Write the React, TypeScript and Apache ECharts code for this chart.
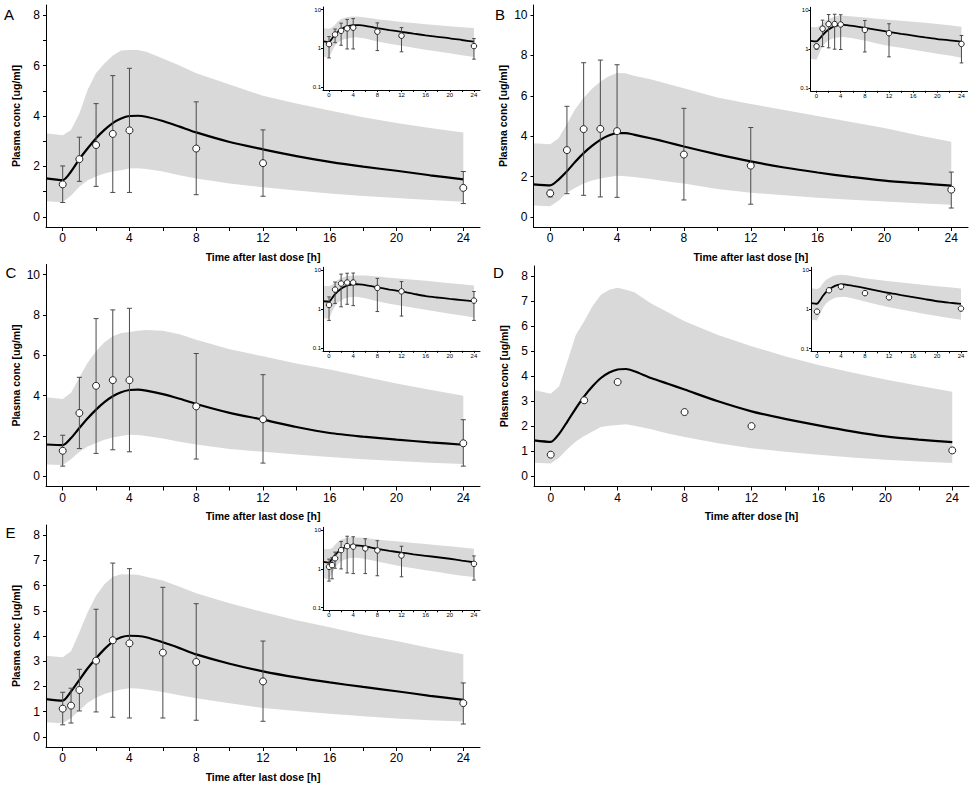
import React, { useEffect, useRef } from 'react';
import * as echarts from 'echarts';

// ---------- shared time grid of the simulated profiles ----------
const predTimes = [-1, 0, 0.5, 1, 1.5, 2, 2.5, 3, 3.5, 4, 4.5, 5, 6, 7, 8, 10, 12, 14, 16, 18, 20, 22, 24];

// ---------- Panel A ----------
const medianA = [1.53, 1.46, 1.8, 2.29, 2.72, 3.12, 3.45, 3.72, 3.9, 4.0, 4.01, 3.97, 3.8, 3.58, 3.35, 2.97, 2.68, 2.41, 2.18, 1.99, 1.83, 1.65, 1.49];
const upperA = [3.32, 3.24, 3.45, 4.1, 5.05, 5.7, 6.08, 6.4, 6.6, 6.62, 6.62, 6.55, 6.28, 6.0, 5.69, 5.25, 4.8, 4.5, 4.22, 3.95, 3.72, 3.52, 3.35];
const lowerA = [0.62, 0.58, 0.85, 1.2, 1.45, 1.6, 1.72, 1.8, 1.85, 1.92, 1.93, 1.9, 1.8, 1.65, 1.52, 1.32, 1.18, 1.05, 0.93, 0.83, 0.75, 0.67, 0.6];
const obsTimeA = [0, 1, 2, 3, 4, 8, 12, 24];
const obsMeanA = [1.29, 2.29, 2.85, 3.29, 3.43, 2.71, 2.13, 1.15];
const obsHighA = [2.02, 3.16, 4.49, 5.6, 5.89, 4.56, 3.45, 1.8];
const obsLowA = [0.57, 1.41, 1.21, 0.97, 0.97, 0.88, 0.82, 0.53];

// ---------- Panel B ----------
const medianB = [1.61, 1.56, 1.85, 2.26, 2.73, 3.16, 3.52, 3.82, 4.03, 4.15, 4.15, 4.08, 3.9, 3.7, 3.49, 3.1, 2.75, 2.45, 2.2, 1.98, 1.8, 1.67, 1.55];
const upperB = [3.65, 3.6, 3.9, 4.6, 5.35, 5.9, 6.35, 6.7, 6.97, 7.13, 7.12, 7.0, 6.82, 6.6, 6.37, 5.92, 5.6, 5.3, 5.0, 4.7, 4.4, 4.05, 3.72];
const lowerB = [0.56, 0.53, 0.8, 1.2, 1.45, 1.65, 1.8, 1.9, 1.98, 2.04, 2.02, 1.98, 1.88, 1.75, 1.65, 1.38, 1.2, 1.07, 0.95, 0.85, 0.76, 0.68, 0.6];
const obsTimeB = [0, 1, 2, 3, 4, 8, 12, 24];
const obsMeanB = [1.17, 3.31, 4.35, 4.36, 4.25, 3.09, 2.54, 1.35];
const obsHighB = [1.33, 5.48, 7.64, 7.77, 7.54, 5.38, 4.43, 2.22];
const obsLowB = [0.99, 1.15, 1.07, 0.99, 0.97, 0.84, 0.63, 0.44];

// ---------- Panel C ----------
const medianC = [1.58, 1.55, 1.9, 2.4, 2.88, 3.31, 3.68, 3.97, 4.17, 4.28, 4.3, 4.25, 4.08, 3.85, 3.59, 3.15, 2.81, 2.45, 2.15, 1.97, 1.82, 1.69, 1.57];
const upperC = [3.92, 3.84, 4.15, 4.9, 5.65, 6.2, 6.65, 6.95, 7.1, 7.16, 7.22, 7.26, 7.22, 7.05, 6.77, 6.3, 5.95, 5.6, 5.3, 4.95, 4.6, 4.3, 4.0];
const lowerC = [0.59, 0.56, 0.85, 1.22, 1.48, 1.65, 1.82, 1.93, 2.0, 2.07, 2.05, 2.0, 1.88, 1.72, 1.58, 1.36, 1.22, 1.08, 0.96, 0.85, 0.76, 0.68, 0.61];
const obsTimeC = [0, 1, 2, 3, 4, 8, 12, 24];
const obsMeanC = [1.27, 3.14, 4.49, 4.77, 4.77, 3.47, 2.83, 1.64];
const obsHighC = [2.04, 4.91, 7.82, 8.25, 8.33, 6.09, 5.04, 2.81];
const obsLowC = [0.51, 1.38, 1.14, 1.32, 1.22, 0.86, 0.66, 0.51];

// ---------- Panel D ----------
const medianD = [1.44, 1.38, 1.7, 2.2, 2.72, 3.2, 3.6, 3.93, 4.15, 4.27, 4.29, 4.2, 3.93, 3.7, 3.47, 3.0, 2.6, 2.3, 2.04, 1.8, 1.6, 1.47, 1.37];
const upperD = [3.45, 3.3, 3.6, 4.6, 5.65, 6.2, 6.8, 7.25, 7.45, 7.53, 7.45, 7.35, 6.9, 6.55, 6.2, 5.65, 5.2, 4.8, 4.45, 4.15, 3.87, 3.62, 3.38];
const lowerD = [0.55, 0.52, 0.75, 1.1, 1.4, 1.62, 1.8, 1.97, 2.02, 2.05, 2.08, 2.02, 1.88, 1.72, 1.58, 1.33, 1.13, 0.99, 0.87, 0.76, 0.67, 0.6, 0.54];
const obsTimeD = [0, 2, 4, 8, 12, 24];
const obsMeanD = [0.87, 3.04, 3.77, 2.57, 2.01, 1.04];

// ---------- Panel E ----------
const medianE = [1.5, 1.44, 1.8, 2.26, 2.72, 3.12, 3.48, 3.78, 3.95, 4.01, 4.0, 3.95, 3.75, 3.52, 3.27, 2.9, 2.6, 2.36, 2.16, 1.98, 1.81, 1.63, 1.47];
const upperE = [3.22, 3.16, 3.4, 4.15, 4.95, 5.6, 6.05, 6.35, 6.45, 6.44, 6.43, 6.35, 6.2, 5.95, 5.69, 5.3, 4.95, 4.62, 4.35, 4.05, 3.8, 3.52, 3.28];
const lowerE = [0.58, 0.54, 0.75, 1.05, 1.35, 1.55, 1.7, 1.8, 1.88, 1.93, 1.92, 1.88, 1.78, 1.65, 1.53, 1.33, 1.15, 1.03, 0.92, 0.82, 0.73, 0.66, 0.61];
const obsTimeE = [0, 0.5, 1, 2, 3, 4, 6, 8, 12, 24];
const obsMeanE = [1.12, 1.24, 1.86, 3.02, 3.83, 3.71, 3.34, 2.97, 2.2, 1.34];
const obsHighE = [1.77, 1.93, 2.68, 5.06, 6.89, 6.67, 5.93, 5.28, 3.8, 2.14];
const obsLowE = [0.48, 0.55, 1.03, 0.99, 0.78, 0.75, 0.75, 0.66, 0.62, 0.51];

// ---------- tick values ----------
const xTickValues = [0, 2, 4, 6, 8, 10, 12, 14, 16, 18, 20, 22, 24];
const xLabelValues = [0, 4, 8, 12, 16, 20, 24];
const yTicks8Minor = [0, 1, 2, 3, 4, 5, 6, 7, 8];
const yLabels8Even = [0, 2, 4, 6, 8];
const yTicks10 = [0, 2, 4, 6, 8, 10];
const yTicks8All = [0, 1, 2, 3, 4, 5, 6, 7, 8];
const logTickValues = [0.1, 1, 10];

const yTitle = 'Plasma conc [ug/ml]';
const xTitleLast = 'Time after last dose [h]';
const xTitleDose = 'Time after dose [h]';

const FONT = '"Liberation Sans", Arial, Helvetica, sans-serif';
const BAND = '#d9d9d9';

type Panel = {
  letter: string;
  letterPos: [number, number];
  main: { left: number; top: number; width: number; height: number };
  inset: { left: number; top: number; width: number; height: number };
  yRange: [number, number];
  yTicks: number[];
  yLabels: number[];
  xName: string;
  med: number[];
  lo: number[];
  hi: number[];
  obsT: number[];
  obsM: number[];
  obsLo?: number[];
  obsHi?: number[];
};

const panels: Panel[] = [
  {
    letter: 'A', letterPos: [9, 14.5],
    main: { left: 46, top: 5, width: 434, height: 222 },
    inset: { left: 323, top: 7, width: 157, height: 83 },
    yRange: [-0.4, 8.4], yTicks: yTicks8Minor, yLabels: yLabels8Even, xName: xTitleLast,
    med: medianA, lo: lowerA, hi: upperA,
    obsT: obsTimeA, obsM: obsMeanA, obsLo: obsLowA, obsHi: obsHighA,
  },
  {
    letter: 'B', letterPos: [500, 14.5],
    main: { left: 533.5, top: 5, width: 434.5, height: 222 },
    inset: { left: 810.5, top: 7.3, width: 157, height: 83.5 },
    yRange: [-0.5, 10.5], yTicks: yTicks10, yLabels: yTicks10, xName: xTitleLast,
    med: medianB, lo: lowerB, hi: upperB,
    obsT: obsTimeB, obsM: obsMeanB, obsLo: obsLowB, obsHi: obsHighB,
  },
  {
    letter: 'C', letterPos: [11, 272.3],
    main: { left: 46, top: 264.5, width: 434, height: 222 },
    inset: { left: 323, top: 267.3, width: 157, height: 83.5 },
    yRange: [-0.5, 10.5], yTicks: yTicks10, yLabels: yTicks10, xName: xTitleLast,
    med: medianC, lo: lowerC, hi: upperC,
    obsT: obsTimeC, obsM: obsMeanC, obsLo: obsLowC, obsHi: obsHighC,
  },
  {
    letter: 'D', letterPos: [498.3, 272],
    main: { left: 534, top: 266, width: 435, height: 220.5 },
    inset: { left: 811, top: 267.3, width: 156, height: 84 },
    yRange: [-0.4, 8.4], yTicks: yTicks8All, yLabels: yTicks8All, xName: xTitleDose,
    med: medianD, lo: lowerD, hi: upperD,
    obsT: obsTimeD, obsM: obsMeanD,
  },
  {
    letter: 'E', letterPos: [10.5, 532.3],
    main: { left: 46, top: 525, width: 434, height: 222 },
    inset: { left: 323, top: 527.3, width: 157, height: 83 },
    yRange: [-0.4, 8.4], yTicks: yTicks8All, yLabels: yTicks8All, xName: xTitleLast,
    med: medianE, lo: lowerE, hi: upperE,
    obsT: obsTimeE, obsM: obsMeanE, obsLo: obsLowE, obsHi: obsHighE,
  },
];

function buildOption() {
  const grid: any[] = [];
  const xAxis: any[] = [];
  const yAxis: any[] = [];
  const series: any[] = [];
  const graphic: any[] = [];

  panels.forEach((p, k) => {
    const mi = 2 * k;
    const ii = 2 * k + 1;
    grid.push({ ...p.main, containLabel: false });
    grid.push({ ...p.inset, containLabel: false });

    const axisLine = { show: true, onZero: false, lineStyle: { color: '#000', width: 1 } };

    // main axes
    xAxis.push({
      type: 'value', gridIndex: mi, min: -1, max: 25, z: 10,
      axisLine,
      axisTick: { show: true, customValues: xTickValues, length: 4, lineStyle: { color: '#000', width: 1 } },
      axisLabel: { customValues: xLabelValues, fontSize: 12, color: '#000', margin: 5, fontFamily: FONT },
      splitLine: { show: false },
      name: p.xName, nameLocation: 'middle', nameGap: 24,
      nameTextStyle: { fontSize: 10.5, fontWeight: 'bold', color: '#000', fontFamily: FONT },
    });
    yAxis.push({
      type: 'value', gridIndex: mi, min: p.yRange[0], max: p.yRange[1], z: 10,
      axisLine,
      axisTick: { show: true, customValues: p.yTicks, length: 3, lineStyle: { color: '#000', width: 1 } },
      axisLabel: { customValues: p.yLabels, fontSize: 12, color: '#000', margin: 6, fontFamily: FONT },
      splitLine: { show: false },
      name: yTitle, nameLocation: 'middle', nameGap: 25,
      nameTextStyle: { fontSize: 10.5, fontWeight: 'bold', color: '#000', fontFamily: FONT },
    });
    // inset axes
    xAxis.push({
      type: 'value', gridIndex: ii, min: -1, max: 25, z: 10,
      axisLine,
      axisTick: { show: true, customValues: xTickValues, length: 2, lineStyle: { color: '#000', width: 1 } },
      axisLabel: { customValues: xLabelValues, fontSize: 6, color: '#000', margin: 2, fontFamily: FONT },
      splitLine: { show: false },
    });
    yAxis.push({
      type: 'log', logBase: 10, gridIndex: ii, min: 0.085, max: 11.7, z: 10,
      axisLine,
      axisTick: { show: true, customValues: logTickValues, length: 2, lineStyle: { color: '#000', width: 1 } },
      axisLabel: {
        customValues: logTickValues, fontSize: 6, color: '#000', margin: 2, fontFamily: FONT,
        formatter: (v: number) => String(parseFloat(Number(v).toPrecision(2))),
      },
      splitLine: { show: false },
      minorTick: { show: false },
    });

    [mi, ii].forEach((ax) => {
      const isInset = ax === ii;
      // prediction band
      series.push({
        type: 'custom', xAxisIndex: ax, yAxisIndex: ax, z: 1, silent: true,
        data: [[predTimes[0], p.med[0]]],
        renderItem: (_params: any, api: any) => {
          const pts: number[][] = [];
          for (let i = 0; i < predTimes.length; i++) pts.push(api.coord([predTimes[i], p.hi[i]]));
          for (let i = predTimes.length - 1; i >= 0; i--) pts.push(api.coord([predTimes[i], p.lo[i]]));
          return { type: 'polygon', shape: { points: pts }, style: { fill: BAND } };
        },
      });
      // median line
      series.push({
        type: 'line', xAxisIndex: ax, yAxisIndex: ax, z: 3, silent: true,
        data: predTimes.map((t, i) => [t, p.med[i]]),
        showSymbol: false, smooth: 0.25,
        lineStyle: { color: '#000', width: isInset ? 1.8 : 2.2 },
      });
      // error bars
      if (p.obsLo && p.obsHi) {
        const lo = p.obsLo;
        const hi = p.obsHi;
        const cap = isInset ? 1.8 : 2.5;
        series.push({
          type: 'custom', xAxisIndex: ax, yAxisIndex: ax, z: 4, silent: true,
          data: p.obsT.map((t, i) => [t, lo[i], hi[i]]),
          encode: { x: 0, y: [1, 2] },
          renderItem: (_params: any, api: any) => {
            const t = api.value(0);
            const a = api.coord([t, api.value(2)]);
            const b = api.coord([t, api.value(1)]);
            const style = { stroke: '#4a4a4a', lineWidth: 1 };
            return {
              type: 'group',
              children: [
                { type: 'line', shape: { x1: a[0], y1: a[1], x2: b[0], y2: b[1] }, style },
                { type: 'line', shape: { x1: a[0] - cap, y1: a[1], x2: a[0] + cap, y2: a[1] }, style },
                { type: 'line', shape: { x1: b[0] - cap, y1: b[1], x2: b[0] + cap, y2: b[1] }, style },
              ],
            };
          },
        });
      }
      // observed means
      series.push({
        type: 'scatter', xAxisIndex: ax, yAxisIndex: ax, z: 5, silent: true,
        data: p.obsT.map((t, i) => [t, p.obsM[i]]),
        symbol: 'circle', symbolSize: isInset ? 5.5 : 7,
        itemStyle: { color: '#fff', borderColor: '#222', borderWidth: 1, opacity: 1 },
      });
    });

    graphic.push({
      type: 'text', x: p.letterPos[0], y: p.letterPos[1], z: 20,
      style: { text: p.letter, fontSize: 15, fill: '#000', fontFamily: FONT, align: 'center', verticalAlign: 'middle' },
    });
  });

  return {
    animation: false,
    backgroundColor: '#fff',
    textStyle: { fontFamily: FONT },
    grid, xAxis, yAxis, series, graphic,
  };
}

export default function App() {
  const ref = useRef<HTMLDivElement>(null);
  useEffect(() => {
    if (!ref.current) return;
    const chart = echarts.init(ref.current, undefined, { renderer: 'svg' });
    chart.setOption(buildOption() as any);
    return () => chart.dispose();
  }, []);
  return (
    <div
      ref={ref}
      style={{ position: 'absolute', left: 0, top: 0, width: 974, height: 787, background: '#fff' }}
    />
  );
}
